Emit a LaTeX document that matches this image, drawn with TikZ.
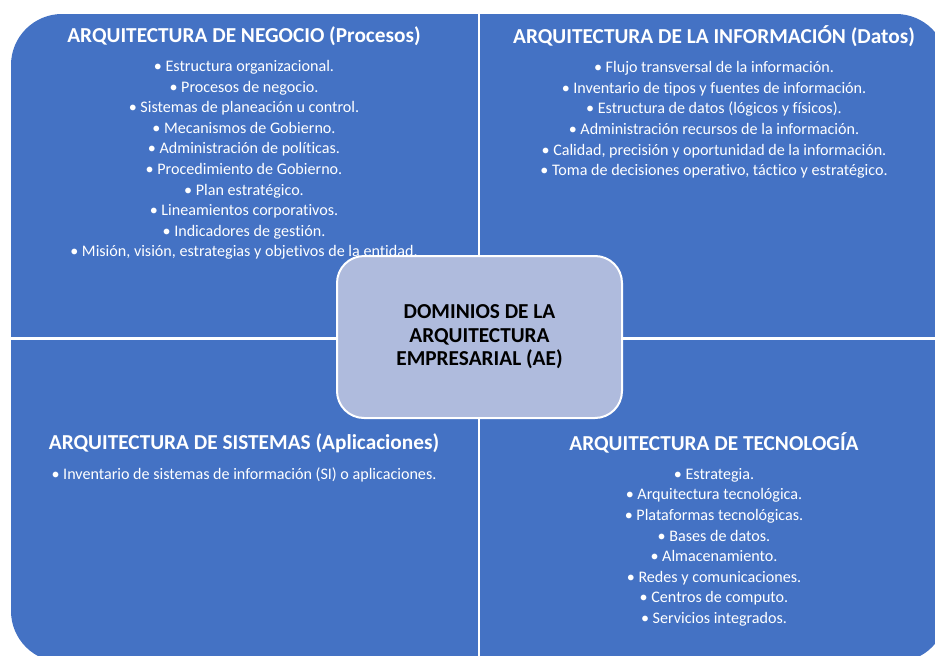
\documentclass[tikz,border=0pt]{standalone}
\usepackage{fontspec}
\setmainfont{Carlito}[Ligatures=NoCommon]
\usetikzlibrary{positioning}
\definecolor{quadblue}{HTML}{4472C4}
\definecolor{hubfill}{HTML}{AFBBDD}

\begin{document}
\begin{tikzpicture}[x=1pt,y=-1pt,
		quadtitle/.style={text=white,font=\fontsize{21.3}{24}\selectfont\bfseries,inner sep=0pt},
		quaditems/.style={text=white,font=\fontsize{16.1}{20.6}\selectfont,align=center,inner sep=0pt},
		hub/.style={draw=white,line width=2pt,fill=hubfill,rounded corners=27pt,
			minimum width=285pt,minimum height=162pt,align=center,
			font=\fontsize{21.3}{23.5}\selectfont\bfseries}]
				\useasboundingbox (0,0) rectangle (935,656);
				\clip (0,0) rectangle (935,656);
				\fill[white] (0,0) rectangle (935,656);
				
				% cuatro cuadrantes
				\fill[quadblue,rounded corners=51pt] (11,14) rectangle (947,662);
				\draw[white,line width=2.5pt] (479,0) -- (479,656);
				\draw[white,line width=2.5pt] (0,338.5) -- (935,338.5);
				
				% negocio
				\node[quadtitle] (negocio) at (244,36) {ARQUITECTURA DE NEGOCIO (Procesos)};
				\node[quaditems,below=14.5pt of negocio] (negocioItems) {%
					• Estructura organizacional.\\
					• Procesos de negocio.\\
					• Sistemas de planeación u control.\\
					• Mecanismos de Gobierno.\\
					• Administración de políticas.\\
					• Procedimiento de Gobierno.\\
					• Plan estratégico.\\
					• Lineamientos corporativos.\\
					• Indicadores de gestión.\\
					• Misión, visión, estrategias y objetivos de la entidad.};
				
				% informacion
				\node[quadtitle] (informacion) at (714,36) {ARQUITECTURA DE LA INFORMACIÓN (Datos)};
				\node[quaditems,below=14.5pt of informacion] (informacionItems) {%
					• Flujo transversal de la información.\\
					• Inventario de tipos y fuentes de información.\\
					• Estructura de datos (lógicos y físicos).\\
					• Administración recursos de la información.\\
					• Calidad, precisión y oportunidad de la información.\\
					• Toma de decisiones operativo, táctico y estratégico.};
				
				% sistemas
				\node[quadtitle] (sistemas) at (244,443) {ARQUITECTURA DE SISTEMAS (Aplicaciones)};
				\node[quaditems,below=14.5pt of sistemas] (sistemasItems) {%
					• Inventario de sistemas de información (SI) o aplicaciones.};
				
				% tecnologia
				\node[quadtitle] (tecnologia) at (714,443) {ARQUITECTURA DE TECNOLOGÍA};
				\node[quaditems,below=14.5pt of tecnologia] (tecnologiaItems) {%
					• Estrategia.\\
					• Arquitectura tecnológica.\\
					• Plataformas tecnológicas.\\
					• Bases de datos.\\
					• Almacenamiento.\\
					• Redes y comunicaciones.\\
					• Centros de computo.\\
					• Servicios integrados.};
				
				\node[hub] (dominios) at (479.5,337) {DOMINIOS DE LA\\ARQUITECTURA\\EMPRESARIAL (AE)};
			\end{tikzpicture}
\end{document}
